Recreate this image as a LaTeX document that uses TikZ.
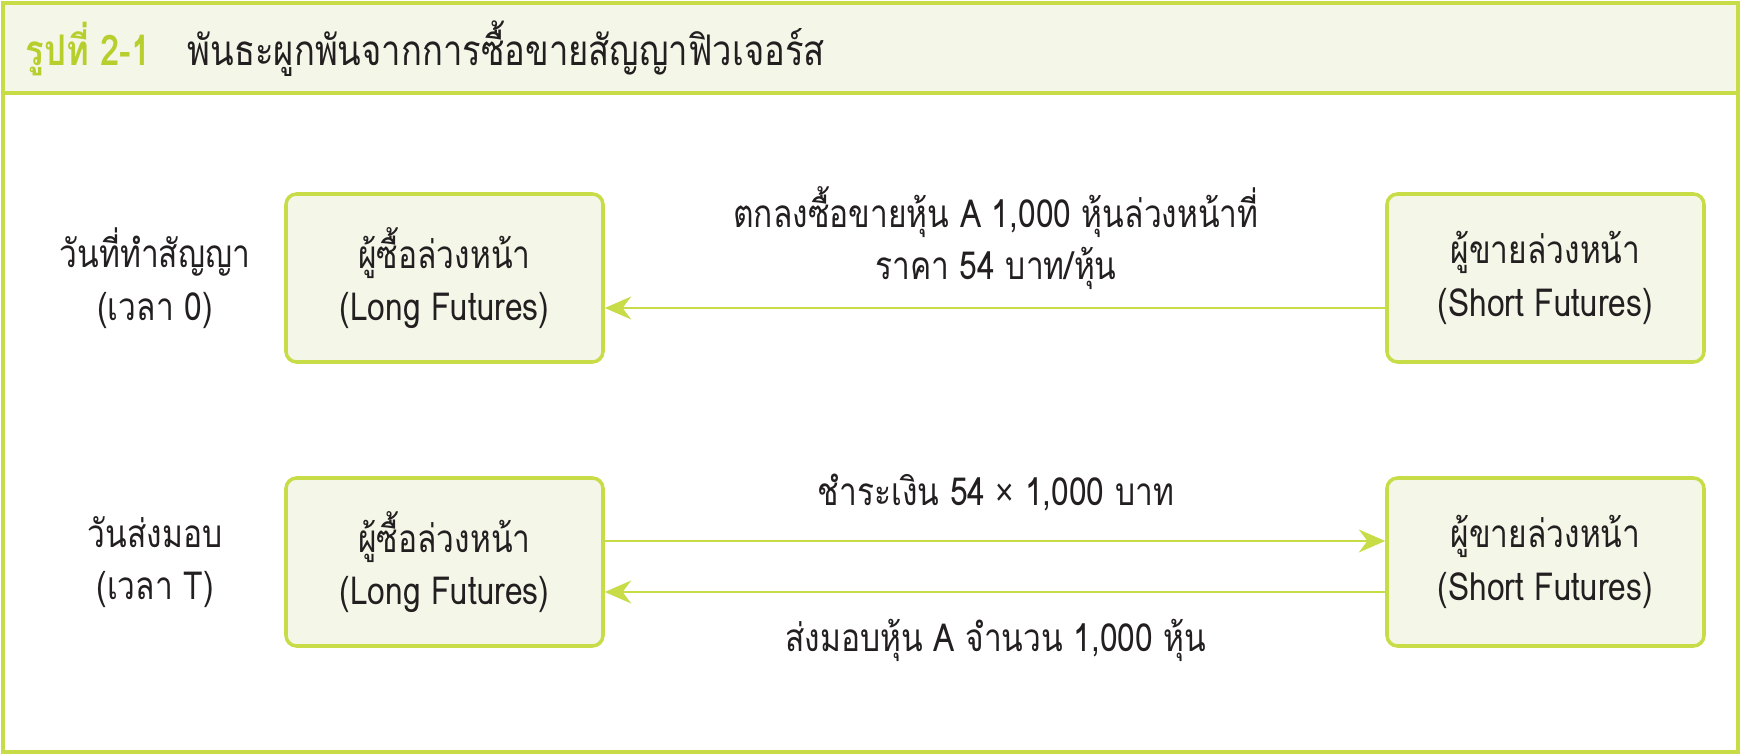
\documentclass[tikz,border=0pt]{standalone}
\usepackage{fontspec}
\setmainfont{Loma}[Script=Thai, FakeStretch=0.82]
\newfontfamily\signfont{Liberation Sans}[FakeStretch=0.82]
\usetikzlibrary{arrows.meta}
\definecolor{lime}{RGB}{200,220,72}
\definecolor{limetext}{RGB}{184,206,44}
\definecolor{paper}{RGB}{244,247,232}
\definecolor{ink}{RGB}{35,31,32}
\tikzset{
  party/.style={draw=lime, line width=1pt, fill=paper, rounded corners=3pt,
    minimum width=317*0.01cm, minimum height=168*0.01cm, align=center,
    text=ink, font=\fontsize{11}{15}\selectfont},
  daylbl/.style={align=center, text=ink, font=\fontsize{11}{15}\selectfont},
  deal/.style={align=center, text=ink, font=\fontsize{11}{15}\selectfont},
  flow/.style={draw=lime, line width=0.8pt, -{Stealth[length=7.5pt,width=6.5pt]}}
}
\begin{document}
\begin{tikzpicture}[x=0.01cm, y=-0.01cm]
\useasboundingbox (0,0) rectangle (1741,755);
% frame and heading
\draw[lime, line width=1pt, fill=paper] (3,3) rectangle (1738,93);
\draw[lime, line width=1pt] (3,3) rectangle (1738,752);
\node[anchor=west, inner sep=0pt, text=ink, font=\fontsize{12}{14}\selectfont] (title) at (25,49)
  {\textcolor{limetext}{\bfseries รูปที่ 2-1}\hspace{10.5pt}พันธะผูกพันจากการซื้อขายสัญญาฟิวเจอร์ส};

% time 0
\node[party] (long0) at (444.5,278) {ผู้ซื้อล่วงหน้า\\(Long Futures)};
\node[party] (short0) at (1545.5,278) {ผู้ขายล่วงหน้า\\(Short Futures)};
\node[daylbl] (day0) at (155,278) {วันที่ทำสัญญา\\(เวลา 0)};
\draw[flow] (short0.west |- 0,308) -- (long0.east |- 0,308);
\node[deal] (agree) at (996,238) {ตกลงซื้อขายหุ้น A 1,000 หุ้นล่วงหน้าที่\\ราคา 54 บาท/หุ้น};

% time T
\node[party] (longT) at (444.5,562) {ผู้ซื้อล่วงหน้า\\(Long Futures)};
\node[party] (shortT) at (1545.5,562) {ผู้ขายล่วงหน้า\\(Short Futures)};
\node[daylbl] (dayT) at (155,562) {วันส่งมอบ\\(เวลา T)};
\draw[flow] (longT.east |- 0,541) -- (shortT.west |- 0,541);
\draw[flow] (shortT.west |- 0,592) -- (longT.east |- 0,592);
\node[deal] (pay) at (996,492) {ชำระเงิน 54 {\signfont ×} 1,000 บาท};
\node[deal] (deliver) at (996,640) {ส่งมอบหุ้น A จำนวน 1,000 หุ้น};
\end{tikzpicture}
\end{document}
